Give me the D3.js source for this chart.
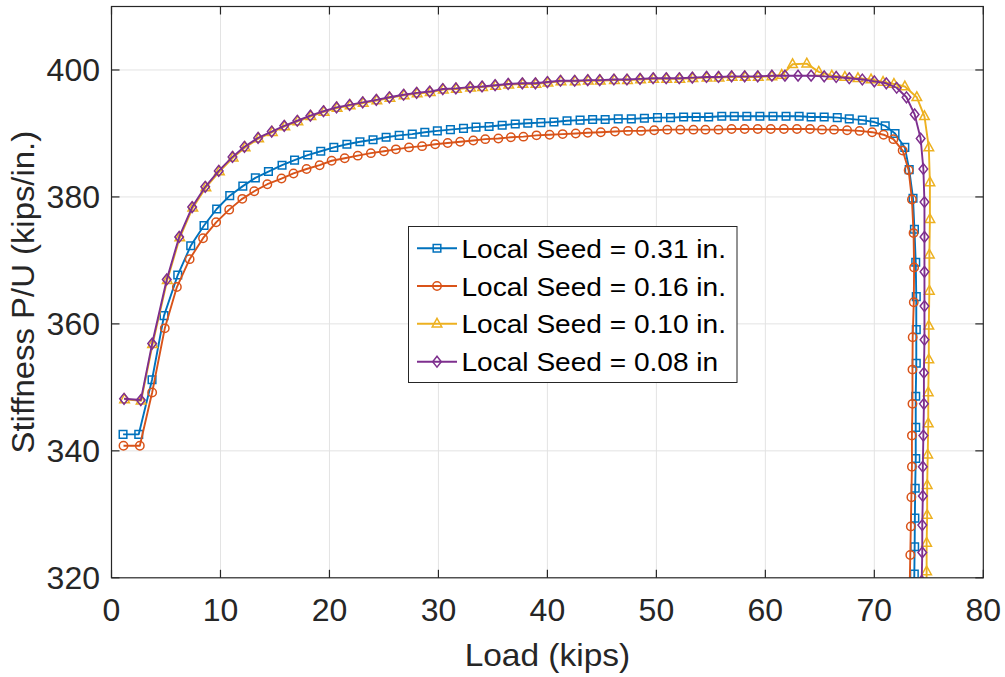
<!DOCTYPE html>
<html>
<head>
<meta charset="utf-8">
<script src="https://cdn.jsdelivr.net/npm/d3@7"></script>
<style>
  html, body { margin: 0; padding: 0; background: #fff; }
  svg { display: block; }
  text { font-family: "Liberation Sans", Arial, Helvetica, sans-serif; }
</style>
</head>
<body>
<svg id="chart" width="1005" height="677"></svg>
<script>
// ---------------- DATA ----------------
const xTicks = [0, 10, 20, 30, 40, 50, 60, 70, 80];
const yTicks = [320, 340, 360, 380, 400];
const seriesNames = ["Local Seed = 0.31 in.", "Local Seed = 0.16 in.", "Local Seed = 0.10 in.", "Local Seed = 0.08 in"];
const seriesColors = ["#0072BD", "#D95319", "#EDB120", "#7E2F8E"];
const seriesMarkers = ["square", "circle", "triangle", "diamond"];

// [load (kips), stiffness (kips/in.)]
const seed031 = [
  [1.06,342.6],[2.5,342.6],[3.72,351.2],[4.82,361.3],[6.08,367.7],[7.27,372.3],[8.49,375.5],[9.65,378.1],
  [10.85,380.2],[12.05,381.7],[13.2,383.0],[14.4,384.0],[15.65,385.0],[16.8,385.8],[18.0,386.6],[19.2,387.2],
  [20.4,387.8],[21.6,388.3],[22.8,388.7],[24.0,389.0],[25.2,389.4],[26.4,389.7],[27.6,389.9],[28.75,390.2],
  [29.9,390.4],[31.1,390.6],[32.3,390.8],[33.45,391.0],[34.65,391.1],[35.85,391.3],[37.05,391.5],[38.2,391.6],
  [39.4,391.7],[40.6,391.8],[41.8,392.0],[43.0,392.1],[44.15,392.2],[45.3,392.2],[46.5,392.3],[47.7,392.3],
  [48.9,392.4],[50.1,392.5],[51.3,392.5],[52.5,392.6],[53.65,392.6],[54.8,392.6],[56.0,392.7],[57.15,392.7],
  [58.3,392.7],[59.5,392.7],[60.7,392.7],[61.9,392.7],[63.1,392.7],[64.2,392.6],[65.4,392.6],[66.6,392.5],
  [67.7,392.3],[68.9,392.1],[70.0,391.8],[71.0,391.2],[71.9,390.0],[72.8,387.8],[73.2,384.3],[73.55,379.8],
  [73.68,374.9],[73.8,369.7],[73.85,364.3],[73.85,359.1],[73.85,353.8],[73.8,348.6],[73.8,343.7],[73.8,338.8],
  [73.75,334.1],[73.72,329.4],[73.7,324.9],[73.67,320.6],[73.64,316.0]
];
const seed016 = [
  [1.1,340.8],[2.6,340.8],[3.73,349.2],[4.89,359.3],[6.0,365.8],[7.17,370.2],[8.4,373.5],[9.6,376.0],
  [10.8,378.0],[12.0,379.7],[13.1,380.9],[14.3,382.0],[15.6,382.9],[16.7,383.7],[17.9,384.4],[19.1,385.0],
  [20.2,385.7],[21.4,386.1],[22.6,386.5],[23.8,386.9],[25.0,387.2],[26.1,387.5],[27.3,387.8],[28.5,388.0],
  [29.7,388.3],[30.85,388.5],[32.0,388.7],[33.2,388.9],[34.3,389.1],[35.5,389.2],[36.65,389.4],[37.8,389.5],
  [39.0,389.7],[40.2,389.8],[41.4,389.9],[42.6,390.0],[43.7,390.1],[44.9,390.2],[46.2,390.3],[47.4,390.4],
  [48.6,390.4],[49.8,390.5],[51.0,390.6],[52.2,390.6],[53.4,390.6],[54.5,390.6],[55.7,390.6],[56.9,390.7],
  [58.1,390.7],[59.3,390.7],[60.5,390.7],[61.7,390.7],[62.9,390.7],[64.1,390.7],[65.2,390.6],[66.3,390.6],
  [67.5,390.5],[68.65,390.4],[69.8,390.2],[70.85,389.8],[71.75,389.1],[72.6,387.3],[73.15,384.2],[73.45,379.6],
  [73.6,374.3],[73.65,368.9],[73.62,363.4],[73.52,357.9],[73.5,352.8],[73.5,347.4],[73.45,342.4],[73.45,337.5],
  [73.4,332.7],[73.35,328.1],[73.3,323.6],[73.25,319.0]
];
const seed010 = [
  [1.2,348.1],[2.72,347.9],[3.77,356.8],[5.12,366.9],[6.27,373.6],[7.46,378.3],[8.66,381.5],[9.9,384.0],
  [11.16,386.2],[12.26,387.8],[13.5,389.2],[14.76,390.2],[15.9,391.1],[17.1,391.9],[18.3,392.7],[19.5,393.4],
  [20.7,394.0],[21.9,394.4],[23.1,394.8],[24.35,395.2],[25.55,395.6],[26.85,396.0],[28.05,396.3],[29.25,396.5],
  [30.45,396.9],[31.65,397.0],[32.95,397.2],[34.05,397.3],[35.25,397.5],[36.45,397.7],[37.75,397.8],[38.95,397.8],
  [40.05,398.0],[41.25,398.2],[42.55,398.2],[43.75,398.3],[44.85,398.3],[46.15,398.4],[47.35,398.4],[48.55,398.5],
  [49.75,398.6],[50.95,398.6],[52.15,398.6],[53.35,398.7],[54.65,398.8],[55.75,398.8],[56.95,398.9],[58.15,398.9],
  [59.35,398.9],[60.6,399.0],[61.5,399.2],[62.5,400.9],[63.8,401.0],[64.9,399.7],[66.1,399.1],[67.3,398.9],
  [68.5,398.7],[69.7,398.5],[70.8,398.1],[71.8,397.8],[72.8,397.4],[73.9,395.7],[74.6,392.7],[75.0,387.8],
  [75.1,382.3],[75.1,376.5],[75.05,370.9],[75.05,365.2],[75.0,359.7],[75.0,354.4],[74.95,349.2],[74.95,344.3],
  [74.9,339.4],[74.85,334.6],[74.85,329.9],[74.8,325.5],[74.8,321.0],[74.78,316.5]
];
const seed008 = [
  [1.15,348.2],[2.69,348.0],[3.73,356.9],[5.07,367.0],[6.21,373.7],[7.4,378.4],[8.6,381.6],[9.84,384.1],
  [11.1,386.3],[12.2,387.9],[13.45,389.3],[14.7,390.3],[15.85,391.2],[17.05,392.0],[18.25,392.8],[19.45,393.5],
  [20.65,394.1],[21.85,394.5],[23.05,394.9],[24.3,395.3],[25.5,395.7],[26.8,396.1],[28.0,396.4],[29.2,396.6],
  [30.4,397.0],[31.6,397.1],[32.9,397.3],[34.0,397.4],[35.2,397.6],[36.4,397.8],[37.7,397.9],[38.9,397.9],
  [40.0,398.1],[41.2,398.3],[42.5,398.3],[43.7,398.4],[44.8,398.4],[46.1,398.5],[47.3,398.5],[48.5,398.6],
  [49.7,398.7],[50.9,398.7],[52.1,398.7],[53.3,398.8],[54.6,398.9],[55.7,398.9],[56.9,399.0],[58.1,399.0],
  [59.3,399.0],[60.6,399.1],[61.8,399.1],[63.0,399.1],[64.2,399.1],[65.4,399.0],[66.5,398.9],[67.7,398.7],
  [68.9,398.5],[70.0,398.2],[71.1,397.9],[72.05,397.2],[72.95,395.7],[73.7,393.0],[74.25,389.2],[74.5,384.4],
  [74.6,379.2],[74.6,373.7],[74.6,368.2],[74.6,362.8],[74.6,357.5],[74.55,352.3],[74.55,347.4],[74.5,342.4],
  [74.45,337.5],[74.45,332.9],[74.4,328.3],[74.4,324.0],[74.35,319.5]
];
const seriesData = [seed031, seed016, seed010, seed008];

// ---------------- LAYOUT ----------------
const svg = d3.select("#chart");
const L = 111.5, R = 983.3, T = 6.5, B = 577.8;
const x = d3.scaleLinear().domain([0, 80]).range([L, R]);
const y = d3.scaleLinear().domain([320, 410]).range([B, T]);
const axisColor = "#262626";

// grid
const grid = svg.append("g");
grid.selectAll(".gx").data(xTicks.slice(1, -1)).join("line")
  .attr("x1", d => x(d)).attr("x2", d => x(d)).attr("y1", T).attr("y2", B)
  .attr("stroke", "#e3e3e3").attr("stroke-width", 1);
grid.selectAll(".gy").data(yTicks.slice(1)).join("line")
  .attr("x1", L).attr("x2", R).attr("y1", d => y(d)).attr("y2", d => y(d))
  .attr("stroke", "#e3e3e3").attr("stroke-width", 1);

// clip
svg.append("defs").append("clipPath").attr("id", "plotclip")
  .append("rect").attr("x", L).attr("y", T).attr("width", R - L).attr("height", B - T);

function markerPath(type) {
  switch (type) {
    case "square": return "M-3.8,-3.8H3.8V3.8H-3.8Z";
    case "circle": return "M4.2,0A4.2,4.2 0 1,1 -4.2,0A4.2,4.2 0 1,1 4.2,0Z";
    case "triangle": return "M0,-5.4L4.8,3.3H-4.8Z";
    case "diamond": return "M0,-5.4L4.3,0L0,5.4L-4.3,0Z";
  }
}

const plot = svg.append("g").attr("clip-path", "url(#plotclip)");
const line = d3.line().x(d => x(d[0])).y(d => y(d[1]));
seriesData.forEach((data, i) => {
  const g = plot.append("g");
  g.append("path").datum(data).attr("d", line)
    .attr("fill", "none").attr("stroke", seriesColors[i]).attr("stroke-width", 1.9)
    .attr("stroke-linejoin", "round");
  g.selectAll("path.m").data(data).join("path").attr("class", "m")
    .attr("transform", d => `translate(${x(d[0])},${y(d[1])})`)
    .attr("d", markerPath(seriesMarkers[i]))
    .attr("fill", "none").attr("stroke", seriesColors[i]).attr("stroke-width", 1.5);
});

// axes box and ticks
const axes = svg.append("g");
axes.append("rect").attr("x", L).attr("y", T).attr("width", R - L).attr("height", B - T)
  .attr("fill", "none").attr("stroke", axisColor).attr("stroke-width", 1.2);
const tl = 8;
axes.selectAll(".tb").data(xTicks).join("line")
  .attr("x1", d => x(d)).attr("x2", d => x(d)).attr("y1", B).attr("y2", B - tl)
  .attr("stroke", axisColor).attr("stroke-width", 1.2);
axes.selectAll(".tt").data(xTicks).join("line")
  .attr("x1", d => x(d)).attr("x2", d => x(d)).attr("y1", T).attr("y2", T + tl)
  .attr("stroke", axisColor).attr("stroke-width", 1.2);
axes.selectAll(".tlft").data(yTicks).join("line")
  .attr("x1", L).attr("x2", L + tl).attr("y1", d => y(d)).attr("y2", d => y(d))
  .attr("stroke", axisColor).attr("stroke-width", 1.2);
axes.selectAll(".trgt").data(yTicks).join("line")
  .attr("x1", R).attr("x2", R - tl).attr("y1", d => y(d)).attr("y2", d => y(d))
  .attr("stroke", axisColor).attr("stroke-width", 1.2);

// tick labels
axes.selectAll(".xl").data(xTicks).join("text")
  .attr("x", d => x(d)).attr("y", 621).attr("text-anchor", "middle")
  .attr("font-size", 32).attr("fill", axisColor).text(d => d);
axes.selectAll(".yl").data(yTicks).join("text")
  .attr("x", 100).attr("y", d => y(d) + 11.5).attr("text-anchor", "end")
  .attr("font-size", 32).attr("fill", axisColor).text(d => d);

// axis titles
svg.append("text").attr("text-anchor", "middle")
  .attr("transform", `translate(${(L + R) / 2},666) scale(1.08,1)`)
  .attr("font-size", 31).attr("fill", axisColor).text("Load (kips)");
svg.append("text").attr("text-anchor", "middle")
  .attr("transform", `translate(33.5,${(T + B) / 2}) rotate(-90) scale(1.06,1)`)
  .attr("font-size", 31).attr("fill", axisColor).text("Stiffness P/U (kips/in.)");

// legend
const lg = svg.append("g");
lg.append("rect").attr("x", 408.5).attr("y", 226.5).attr("width", 328.5).attr("height", 156)
  .attr("fill", "#fff").attr("stroke", axisColor).attr("stroke-width", 1);
const rowY = [248.3, 286, 323.7, 361.7];
seriesNames.forEach((name, i) => {
  lg.append("line").attr("x1", 417).attr("x2", 457).attr("y1", rowY[i]).attr("y2", rowY[i])
    .attr("stroke", seriesColors[i]).attr("stroke-width", 1.9);
  lg.append("path").attr("transform", `translate(437,${rowY[i]})`).attr("d", markerPath(seriesMarkers[i]))
    .attr("fill", "none").attr("stroke", seriesColors[i]).attr("stroke-width", 1.5);
  lg.append("text").attr("transform", `translate(461.5,${rowY[i] + 9.5}) scale(1.08,1)`)
    .attr("font-size", 26).attr("fill", "#000").text(name);
});
</script>
</body>
</html>
